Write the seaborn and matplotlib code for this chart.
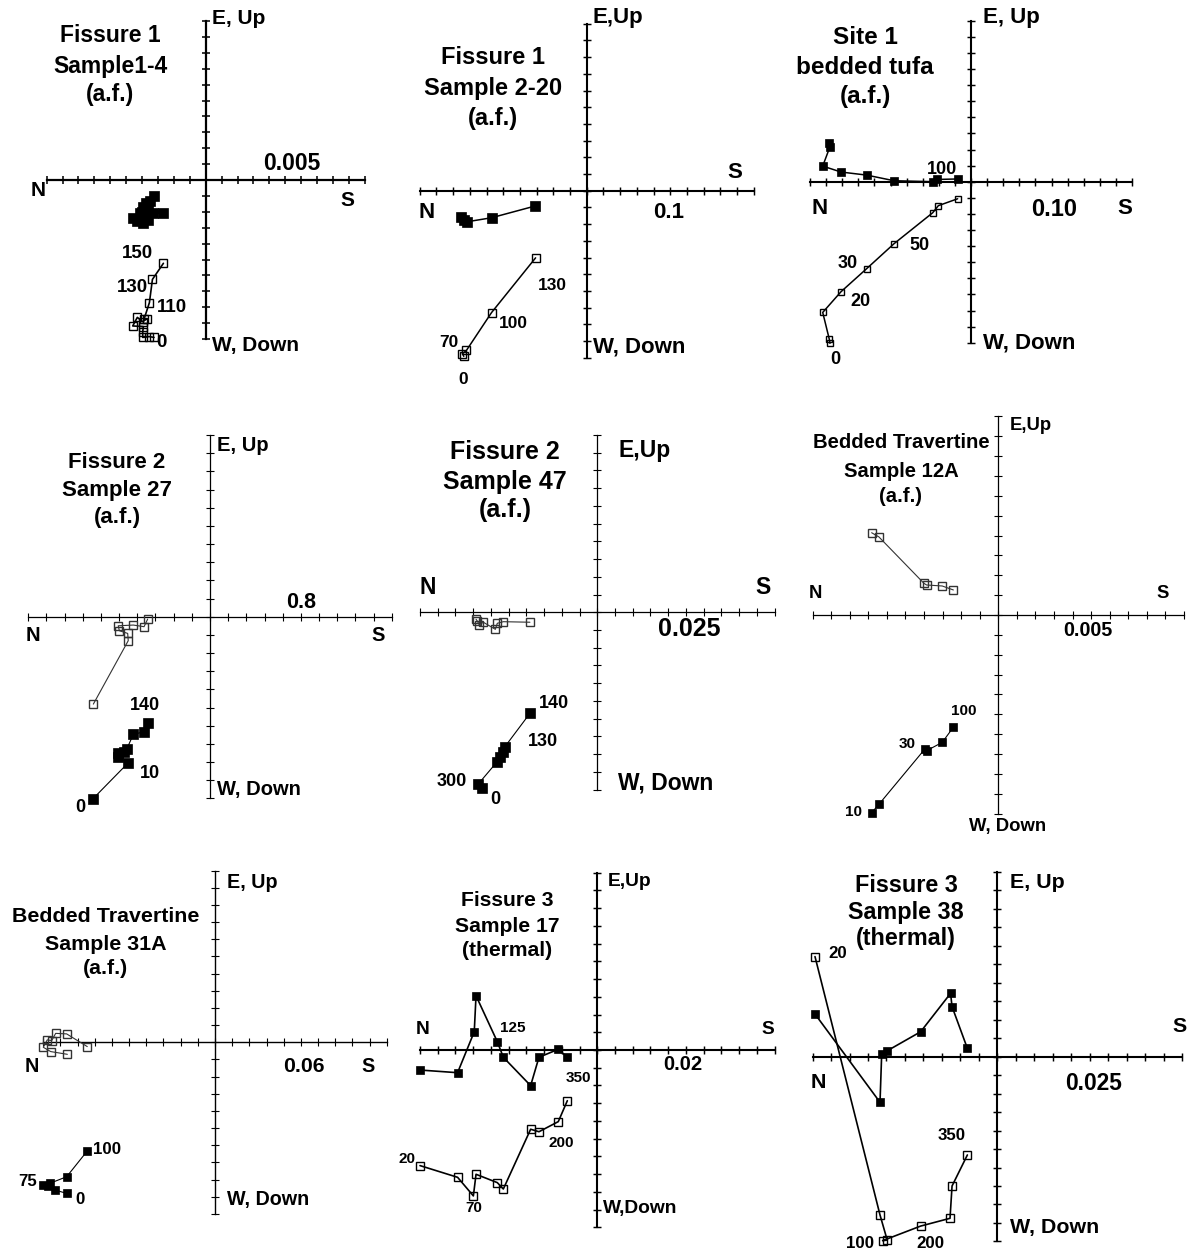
import matplotlib
matplotlib.use("Agg")
import matplotlib.pyplot as plt
import seaborn as sns
import numpy as np

sns.set_theme(style="white", rc={"axes.edgecolor": "black", "xtick.color": "black",
                                 "ytick.color": "black", "text.color": "black"})
plt.rcParams["font.family"] = ["Liberation Sans", "DejaVu Sans"]

W, H = 1188, 1251

# ---------------- data (in axis-tick units: +x = S, +y = E/Up) ----------------
# Panel 1 : Fissure 1, Sample1-4
p1_hx = [-3.25, -3.50, -3.75, -3.96, -3.61, -2.66, -3.33, -3.71, -4.13, -4.55, -4.30, -3.92, -3.61, -3.88, -4.03]
p1_hy = [-1.01, -1.32, -1.47, -1.68, -1.78, -2.05, -2.10, -1.93, -2.10, -2.41, -2.56, -2.68, -2.52, -2.31, -1.99]
p1_vx = [-3.25, -3.54, -3.96, -3.96, -3.92, -4.59, -4.30, -3.96, -3.71, -3.88, -3.54, -3.35, -2.66]
p1_vy = [-9.90, -9.85, -9.90, -9.54, -9.22, -9.18, -8.64, -8.91, -8.74, -8.76, -7.71, -6.25, -5.24]
p1_labels = ["150", "130", "110", "0"]

# Panel 2 : Fissure 1, Sample 2-20
p2_hx = [-7.50, -7.36, -7.16, -5.70, -3.10]
p2_hy = [-1.60, -1.76, -1.86, -1.62, -0.92]
p2_vx = [-7.36, -7.44, -7.20, -5.70, -3.06]
p2_vy = [-9.92, -9.76, -9.56, -7.30, -4.02]
p2_labels = ["130", "100", "70", "0"]

# Panel 3 : Site 1 bedded tufa
p3_hx = [-8.80, -8.76, -9.21, -8.07, -6.48, -4.78, -2.38, -2.13, -0.79]
p3_hy = [2.42, 2.17, 0.97, 0.60, 0.41, 0.06, 0.00, 0.14, 0.17]
p3_vx = [-8.76, -8.80, -9.21, -8.07, -6.48, -4.78, -2.38, -2.03, -0.83]
p3_vy = [-10.04, -9.79, -8.12, -6.83, -5.40, -3.85, -1.93, -1.49, -1.06]
p3_labels = ["100", "0", "20", "30", "50"]

# Panel 4 : Fissure 2, Sample 27
p4_hx = [-6.46, -4.50, -5.08, -5.05, -4.73, -4.59, -4.22, -3.63, -3.43]
p4_hy = [-10.04, -8.04, -7.74, -7.52, -7.43, -7.30, -6.48, -6.33, -5.83]
p4_vx = [-6.42, -4.50, -4.53, -4.99, -5.05, -4.22, -3.63, -3.43]
p4_vy = [-4.81, -1.32, -0.92, -0.77, -0.50, -0.46, -0.55, -0.13]
p4_labels = ["0", "10", "140"]

# Panel 5 : Fissure 2, Sample 47
p5_hx = [-6.52, -6.71, -5.64, -5.49, -5.34, -5.21, -3.80]
p5_hy = [-9.92, -9.68, -8.42, -8.14, -7.86, -7.58, -5.70]
p5_vx = [-6.84, -6.77, -6.65, -6.43, -5.75, -5.64, -5.30, -3.80]
p5_vy = [-0.39, -0.49, -0.71, -0.56, -0.96, -0.62, -0.53, -0.56]
p5_labels = ["140", "130", "300", "0"]

# Panel 6 : Bedded Travertine, Sample 12A
p6_hx = [-6.82, -6.43, -3.95, -3.86, -3.02, -2.42]
p6_hy = [-9.95, -9.53, -6.74, -6.83, -6.41, -5.65]
p6_vx = [-6.82, -6.43, -4.00, -3.86, -3.02, -2.42]
p6_vy = [4.14, 3.93, 1.59, 1.51, 1.46, 1.26]
p6_labels = ["10", "30", "100"]

# Panel 7 : Bedded Travertine, Sample 31A
p7_hx = [-8.64, -9.32, -9.71, -10.00, -9.61, -8.64, -7.44]
p7_hy = [-8.80, -8.60, -8.37, -8.31, -8.21, -7.83, -6.33]
p7_vx = [-7.44, -8.64, -9.28, -9.51, -9.77, -10.00, -9.57, -8.60]
p7_vy = [-0.25, 0.49, 0.52, 0.10, 0.14, -0.29, -0.54, -0.70]
p7_labels = ["100", "75", "0"]

# Panel 8 : Fissure 3, Sample 17 (thermal)
p8_hx = [-10.00, -7.88, -6.94, -6.84, -5.64, -5.30, -3.76, -3.29, -2.20, -1.69]
p8_hy = [-1.13, -1.28, 1.03, 3.06, 0.47, -0.41, -2.01, -0.41, 0.04, -0.41]
p8_vx = [-10.00, -7.88, -6.99, -6.84, -5.64, -5.30, -3.76, -3.29, -2.20, -1.69]
p8_vy = [-6.52, -7.18, -8.23, -7.01, -7.48, -7.84, -4.47, -4.61, -4.04, -2.86]
p8_labels = ["125", "350", "20", "70", "200"]

# Panel 9 : Fissure 3, Sample 38 (thermal)
p9_hx = [-9.87, -6.35, -6.26, -5.96, -4.15, -2.53, -2.45, -1.62]
p9_hy = [2.31, -2.47, 0.14, 0.32, 1.35, 3.43, 2.71, 0.45]
p9_vx = [-9.87, -6.35, -5.96, -6.21, -4.15, -2.56, -2.45, -1.62]
p9_vy = [5.42, -8.57, -9.93, -9.96, -9.17, -8.75, -7.00, -5.32]
p9_labels = ["20", "350", "100", "200"]

titles = [
    ["Fissure 1", "Sample1-4", "(a.f.)"],
    ["Fissure 1", "Sample 2-20", "(a.f.)"],
    ["Site 1", "bedded tufa", "(a.f.)"],
    ["Fissure 2", "Sample 27", "(a.f.)"],
    ["Fissure 2", "Sample 47", "(a.f.)"],
    ["Bedded Travertine", "Sample 12A", "(a.f.)"],
    ["Bedded Travertine", "Sample 31A", "(a.f.)"],
    ["Fissure 3", "Sample 17", "(thermal)"],
    ["Fissure 3", "Sample 38", "(thermal)"],
]
scales = ["0.005", "0.1", "0.10", "0.8", "0.025", "0.005", "0.06", "0.02", "0.025"]
up_labels = ["E, Up", "E,Up", "E, Up", "E, Up", "E,Up", "E,Up", "E, Up", "E,Up", "E, Up"]
down_labels = ["W, Down", "W, Down", "W, Down", "W, Down", "W, Down", "W, Down", "W, Down", "W,Down", "W, Down"]

# ---------------- layout (pixels) ----------------
layout = [
    # origin x, origin y, tick px x, tick px y
    dict(o=(205.7, 180.0), s=(15.9, 15.9)),
    dict(o=(586.7, 190.7), s=(16.7, 16.7)),
    dict(o=(971.0, 181.7), s=(16.1, 16.1)),
    dict(o=(210.0, 616.7), s=(18.17, 18.17)),
    dict(o=(597.3, 612.3), s=(17.73, 17.73)),
    dict(o=(998.3, 615.0), s=(18.57, 19.87)),
    dict(o=(215.0, 1042.3), s=(17.17, 17.17)),
    dict(o=(597.3, 1050.0), s=(17.73, 17.73)),
    dict(o=(997.3, 1056.7), s=(18.47, 18.47)),
]
text_pos = [
    dict(up=(212, 18), dn=(212, 345), N=(38, 190), S=(347, 200), sc=(292, 163), tx=110, ty=[36, 66, 94],
         ann=[(137, 254), (132, 288), (172, 307), (161, 343)]),
    dict(up=(593, 18), dn=(593, 347), N=(427, 212), S=(735, 172), sc=(669, 213), tx=493, ty=[58, 89, 118],
         ann=[(552, 286), (513, 323), (449, 343), (463, 380)]),
    dict(up=(983, 18), dn=(983, 343), N=(820, 208), S=(1125, 208), sc=(1054, 210), tx=865, ty=[38, 68, 97],
         ann=[(942, 170), (835, 360), (860, 302), (848, 264), (919, 245)]),
    dict(up=(217, 445), dn=(217, 790), N=(33, 636), S=(378, 636), sc=(301, 603), tx=117, ty=[463, 490, 518],
         ann=[(80, 808), (150, 773), (145, 705)]),
    dict(up=(618, 450), dn=(618, 783), N=(428, 587), S=(763, 587), sc=(689, 629), tx=505, ty=[452, 482, 510],
         ann=[(554, 703), (543, 742), (452, 782), (495, 800)]),
    dict(up=(1010, 425), dn=(1008, 827), N=(815, 593), S=(1163, 593), sc=(1088, 630), tx=901, ty=[443, 472, 497],
         ann=[(853, 812), (907, 744), (964, 711)], dn_center=True),
    dict(up=(227, 882), dn=(227, 1200), N=(32, 1067), S=(368, 1067), sc=(304, 1067), tx=106, ty=[917, 944, 969],
         ann=[(107, 1149), (28, 1182), (80, 1199)]),
    dict(up=(608, 882), dn=(603, 1209), N=(423, 1030), S=(768, 1030), sc=(683, 1065), tx=507, ty=[900, 926, 950],
         ann=[(513, 1028), (578, 1078), (407, 1159), (474, 1208), (561, 1143)]),
    dict(up=(1010, 883), dn=(1010, 1228), N=(818, 1083), S=(1180, 1027), sc=(1094, 1083), tx=906, ty=[885, 913, 939],
         ann=[(838, 954), (952, 1135), (860, 1243), (930, 1243)]),
]
# font sizes: title, axis label, scale, annotation
fonts = [(16.5, 15.0, 16.5, 13.5), (17.0, 16.0, 16.0, 12.5), (17.5, 16.0, 17.0, 13.0),
         (16.0, 14.5, 15.5, 13.0), (18.0, 16.5, 18.0, 13.0), (14.6, 13.3, 14.2, 11.0),
         (15.4, 14.2, 15.3, 12.2), (15.2, 13.8, 14.5, 11.0), (16.8, 15.4, 16.4, 12.2)]
# styles: axis lw, data lw, filled marker size, open marker size, open edge colour
styles = [(1.6, 1.2, 7.0, 5.6, "black"), (1.5, 1.1, 6.6, 5.6, "black"), (1.5, 1.1, 5.8, 4.8, "black"),
          (0.9, 0.8, 6.6, 6.0, "#333333"), (0.9, 0.8, 7.0, 5.6, "#333333"), (0.9, 0.8, 6.4, 5.6, "#333333"),
          (1.0, 0.8, 5.3, 5.3, "#333333"), (1.5, 1.2, 6.4, 5.2, "black"), (1.5, 1.2, 6.4, 5.2, "black")]

hxs = [p1_hx, p2_hx, p3_hx, p4_hx, p5_hx, p6_hx, p7_hx, p8_hx, p9_hx]
hys = [p1_hy, p2_hy, p3_hy, p4_hy, p5_hy, p6_hy, p7_hy, p8_hy, p9_hy]
vxs = [p1_vx, p2_vx, p3_vx, p4_vx, p5_vx, p6_vx, p7_vx, p8_vx, p9_vx]
vys = [p1_vy, p2_vy, p3_vy, p4_vy, p5_vy, p6_vy, p7_vy, p8_vy, p9_vy]
labs = [p1_labels, p2_labels, p3_labels, p4_labels, p5_labels, p6_labels, p7_labels, p8_labels, p9_labels]

fig = plt.figure(figsize=(W / 100, H / 100), dpi=100)


def ftext(x, y, s, size, ha="center", va="center"):
    fig.text(x / W, 1 - y / H, s, ha=ha, va=va, fontsize=size, fontweight="bold", color="black")


L = 10
PAD = 2
for i in range(9):
    ox, oy = layout[i]["o"]
    sx, sy = layout[i]["s"]
    left = ox - (L + PAD) * sx
    top = oy - (L + PAD) * sy
    wpx = 2 * (L + PAD) * sx
    hpx = 2 * (L + PAD) * sy
    ax = fig.add_axes([left / W, 1 - (top + hpx) / H, wpx / W, hpx / H])
    ax.set_facecolor("none")
    alw, dlw, fms, oms, oec = styles[i]

    sns.lineplot(x=vxs[i], y=vys[i], sort=False, estimator=None, ax=ax, color=oec, lw=dlw,
                 marker="s", markersize=oms, markerfacecolor="none", markeredgecolor=oec,
                 markeredgewidth=1.0, clip_on=False, zorder=3)
    sns.lineplot(x=hxs[i], y=hys[i], sort=False, estimator=None, ax=ax, color="black", lw=dlw,
                 marker="s", markersize=fms, markerfacecolor="black", markeredgecolor="black",
                 markeredgewidth=0.5, clip_on=False, zorder=4)

    ax.set_xlim(-(L + PAD), L + PAD)
    ax.set_ylim(-(L + PAD), L + PAD)
    ax.set_xlabel("")
    ax.set_ylabel("")
    for side in ("top", "right"):
        ax.spines[side].set_visible(False)
    for side in ("left", "bottom"):
        ax.spines[side].set_position(("data", 0))
        ax.spines[side].set_linewidth(alw)
        ax.spines[side].set_color("black")
        ax.spines[side].set_bounds(-L, L)
    ax.set_xticks(np.arange(-L, L + 1))
    ax.set_yticks(np.arange(-L, L + 1))
    ax.tick_params(axis="both", direction="inout", length=5.5, width=max(alw * 0.7, 0.8),
                   labelbottom=False, labelleft=False, bottom=True, left=True, top=False, right=False)
    ax.grid(False)

    tp = text_pos[i]
    tfs, lfs, sfs, afs = fonts[i]
    for line, y in zip(titles[i], tp["ty"]):
        ftext(tp["tx"], y, line, tfs)
    ftext(tp["up"][0], tp["up"][1], up_labels[i], lfs, ha="left")
    if tp.get("dn_center"):
        ftext(tp["dn"][0], tp["dn"][1], down_labels[i], lfs, ha="center")
    else:
        ftext(tp["dn"][0], tp["dn"][1], down_labels[i], lfs, ha="left")
    ftext(tp["N"][0], tp["N"][1], "N", lfs)
    ftext(tp["S"][0], tp["S"][1], "S", lfs)
    ftext(tp["sc"][0], tp["sc"][1], scales[i], sfs)
    for s, (x, y) in zip(labs[i], tp["ann"]):
        ftext(x, y, s, afs)

fig.savefig("out.png", dpi=100, facecolor="white")
